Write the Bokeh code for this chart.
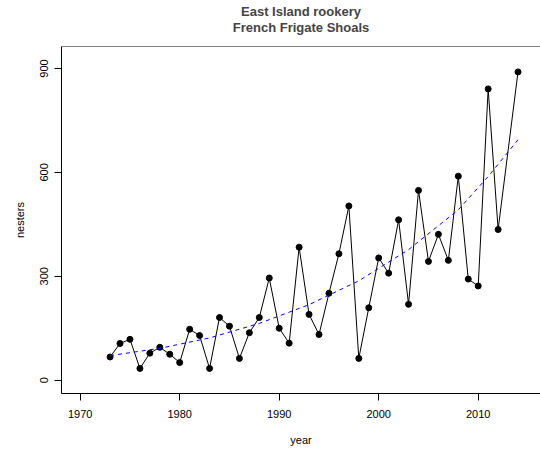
from bokeh.plotting import figure
from bokeh.models import Range1d, FixedTicker, Span, ColumnDataSource, Title
from bokeh.embed import file_html
from bokeh.resources import INLINE

# ---- data ----
years = [1973, 1974, 1975, 1976, 1977, 1978, 1979, 1980, 1981, 1982,
         1983, 1984, 1985, 1986, 1987, 1988, 1989, 1990, 1991, 1992,
         1993, 1994, 1995, 1996, 1997, 1998, 1999, 2000, 2001, 2002,
         2003, 2004, 2005, 2006, 2007, 2008, 2009, 2010, 2011, 2012,
         2014]
nesters = [67, 106, 118, 34, 78, 95, 75, 51, 147, 129,
           34, 181, 156, 63, 137, 181, 295, 150, 107, 384,
           190, 132, 251, 365, 503, 63, 209, 353, 309, 463,
           219, 548, 343, 421, 346, 589, 292, 272, 841, 435,
           890]
trend_years = [1973, 1978, 1983, 1988, 1993, 1998, 2003, 2008, 2011, 2014]
trend_values = [71, 92, 122, 164, 218, 287, 377, 492, 588, 694]

x_ticks = [1970, 1980, 1990, 2000, 2010]
y_ticks = [0, 300, 600, 900]
title_line1 = "East Island rookery"
title_line2 = "French Frigate Shoals"
x_label = "year"
y_label = "nesters"

FONT = "Liberation Sans"

x_start, x_end = 1968.12, 2016.26
y_start, y_end = -38.4, 963.4

p = figure(width=540, height=450, output_backend="svg", toolbar_location=None,
           x_range=Range1d(x_start, x_end), y_range=Range1d(y_start, y_end),
           min_border_left=61, min_border_right=0, min_border_top=46,
           min_border_bottom=57, x_axis_label=x_label, y_axis_label=y_label)
p.outline_line_color = None
p.grid.visible = False
p.background_fill_color = "white"
p.border_fill_color = "white"
p.title.text = ""

for ax in (p.xaxis[0], p.yaxis[0]):
    ax.major_tick_in = 0
    ax.major_tick_out = 7
    ax.minor_tick_in = 0
    ax.minor_tick_out = 0
    ax.axis_line_color = "black"
    ax.major_tick_line_color = "black"
    ax.major_label_text_font = FONT
    ax.major_label_text_font_size = "11px"
    ax.major_label_text_color = "black"
    ax.axis_label_text_font = FONT
    ax.axis_label_text_font_size = "11px"
    ax.axis_label_text_font_style = "normal"
    ax.axis_label_text_color = "black"

p.xaxis.ticker = FixedTicker(ticks=x_ticks)
p.yaxis.ticker = FixedTicker(ticks=y_ticks)
p.yaxis.major_label_orientation = "vertical"
p.xaxis.major_label_standoff = 9
p.xaxis.axis_label_standoff = 13
p.yaxis.major_label_standoff = 6
p.yaxis.axis_label_standoff = 12

# top border of the box
p.add_layout(Span(location=y_end, dimension="width", line_color="black", line_width=1))

t2 = Title(text=title_line2, align="center", text_font=FONT, text_font_size="13px",
           text_font_style="bold", standoff=23)
t1 = Title(text=title_line1, align="center", text_font=FONT, text_font_size="13px",
           text_font_style="bold", standoff=-25)
p.add_layout(t2, "above")
p.add_layout(t1, "above")

src = ColumnDataSource(dict(year=years, n=nesters))
p.line("year", "n", source=src, line_color="black", line_width=1)
p.scatter("year", "n", source=src, size=6, color="black")
p.line(trend_years, trend_values, line_color="blue", line_width=1, line_dash="4 4")

open("out.html", "w").write(file_html(p, INLINE))
